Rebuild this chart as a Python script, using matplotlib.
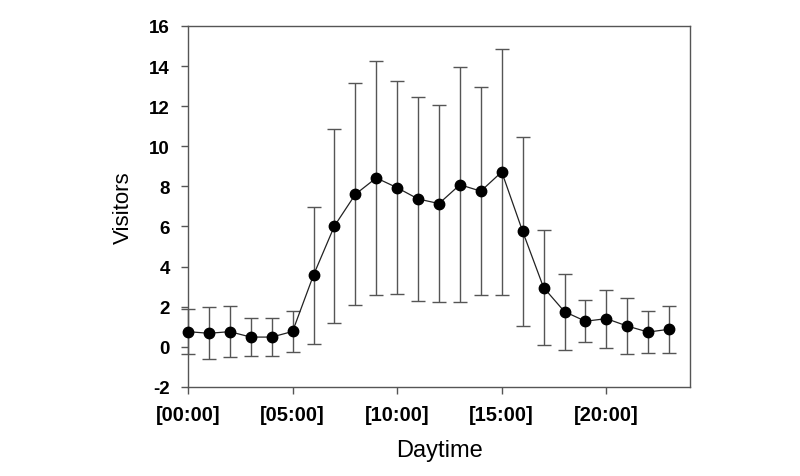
import matplotlib.pyplot as plt

# hourly mean visitors and symmetric error (sd)
hours = list(range(24))
visitors = [0.75, 0.67, 0.75, 0.48, 0.48, 0.76, 3.57, 6.02, 7.60, 8.42,
            7.93, 7.37, 7.14, 8.08, 7.76, 8.72, 5.75, 2.95, 1.75, 1.27,
            1.40, 1.03, 0.73, 0.87]
errors = [1.12, 1.30, 1.26, 0.95, 0.93, 1.00, 3.42, 4.85, 5.53, 5.85,
          5.30, 5.08, 4.90, 5.85, 5.20, 6.12, 4.73, 2.88, 1.90, 1.05,
          1.45, 1.40, 1.06, 1.16]
xtick_pos = [0, 5, 10, 15, 20]
xtick_labels = ['[00:00]', '[05:00]', '[10:00]', '[15:00]', '[20:00]']
ytick_pos = list(range(-2, 17, 2))

plt.rcParams['font.family'] = ['Liberation Sans', 'DejaVu Sans']

fig = plt.figure(figsize=(8, 4.77), dpi=100)
ax = fig.add_axes([0.235, 0.187, 0.6275, 0.7565])

ax.errorbar(hours, visitors, yerr=errors, fmt='none', ecolor='#555555',
            elinewidth=1.0, capsize=5, capthick=1.0, clip_on=False, zorder=2)
ax.plot(hours, visitors, color='#222222', linewidth=0.9, marker='o',
        markersize=7.5, markerfacecolor='black', markeredgecolor='black',
        clip_on=False, zorder=3)

ax.set_xlim(0, 24)
ax.set_ylim(-2, 16)
ax.set_xticks(xtick_pos)
ax.set_xticklabels(xtick_labels, fontsize=14.5, fontweight='bold')
ax.set_yticks(ytick_pos)
ax.set_yticklabels([str(v) for v in ytick_pos], fontsize=13.5, fontweight='bold')
ax.tick_params(direction='out', length=5, width=1, color='#555555')
ax.tick_params(axis='x', pad=8)
ax.tick_params(axis='y', pad=8)

for s in ax.spines.values():
    s.set_color('#555555')
    s.set_linewidth(1)

ax.set_xlabel('Daytime', fontsize=17, labelpad=11)
ax.set_ylabel('Visitors', fontsize=16, labelpad=11)

fig.savefig('out.png', dpi=100)
